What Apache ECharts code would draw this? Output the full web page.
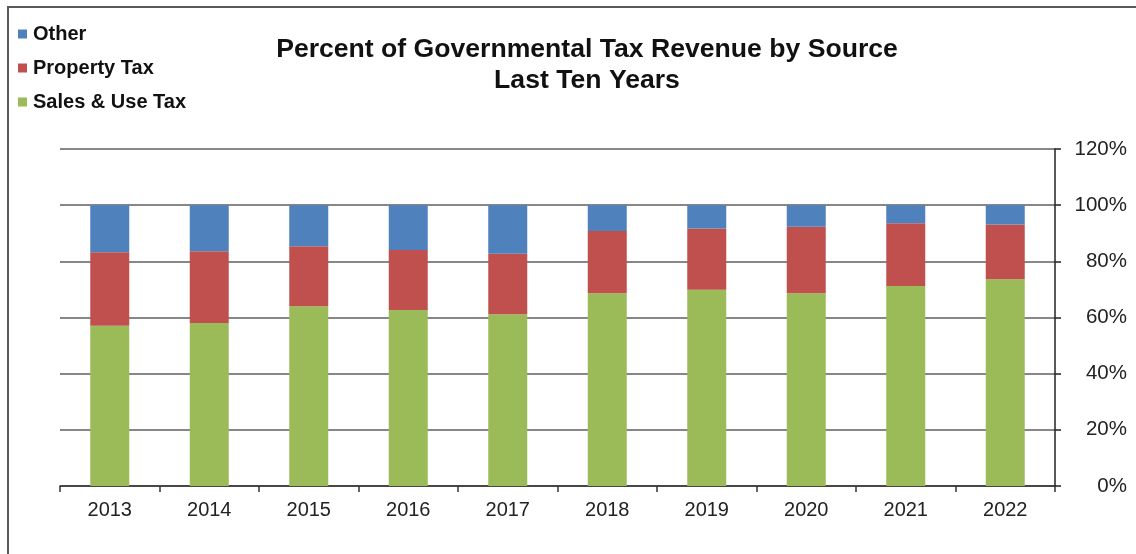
<!DOCTYPE html>
<html>
<head>
<meta charset="utf-8">
<title>Percent of Governmental Tax Revenue by Source</title>
<script src="https://cdn.jsdelivr.net/npm/echarts@6/dist/echarts.min.js"></script>
<style>
  html, body { margin: 0; padding: 0; background: #fff; }
  #chart { width: 1136px; height: 554px; }
</style>
</head>
<body>
<div id="chart"></div>
<script>
// Fiscal years shown on the category axis
const years = ['2013', '2014', '2015', '2016', '2017', '2018', '2019', '2020', '2021', '2022'];

// Share of governmental tax revenue (percent), stacked bottom to top
const salesUseTax = [57.1, 58.0, 64.0, 62.7, 61.2, 68.6, 69.9, 68.6, 71.2, 73.6];
const propertyTax = [26.1, 25.6, 21.4, 21.3, 21.5, 22.2, 21.8, 23.7, 22.4, 19.5];
const otherTax    = [16.8, 16.4, 14.6, 16.0, 17.3,  9.2,  8.3,  7.7,  6.4,  6.9];

// Percent axis range and step
const yMin = 0;
const yMax = 120;
const yStep = 20;

const FONT = 'Liberation Sans, Arial, sans-serif';

const chart = echarts.init(document.getElementById('chart'), null, { renderer: 'canvas' });

const barBase = {
  type: 'bar',
  stack: 'share',
  barWidth: 39,
  emphasis: { disabled: true }
};

chart.setOption({
  animation: false,
  backgroundColor: '#ffffff',
  textStyle: { fontFamily: FONT },
  title: {
    text: 'Percent of Governmental Tax Revenue by Source\nLast Ten Years',
    left: 587,
    top: 34,
    textAlign: 'center',
    padding: 0,
    textStyle: {
      fontFamily: FONT,
      fontSize: 26.6,
      fontWeight: 'bold',
      color: '#111',
      lineHeight: 31
    }
  },
  legend: {
    orient: 'vertical',
    left: 18,
    top: 24,
    padding: 0,
    itemWidth: 9,
    itemHeight: 9,
    itemGap: 14,
    icon: 'rect',
    data: ['Other', 'Property Tax', 'Sales & Use Tax'],
    textStyle: {
      fontFamily: FONT,
      fontSize: 20,
      fontWeight: 'bold',
      color: '#111',
      padding: [0, 0, 0, 1]
    }
  },
  grid: {
    left: 60,
    right: 81,
    top: 149,
    bottom: 68,
    containLabel: false
  },
  xAxis: {
    type: 'category',
    data: years,
    boundaryGap: true,
    axisLine: { show: true, lineStyle: { color: '#333', width: 1.5 } },
    axisTick: { show: true, length: 6, inside: false, lineStyle: { color: '#333', width: 1.5 } },
    axisLabel: {
      margin: 14,
      fontFamily: FONT,
      fontSize: 20,
      color: '#222'
    },
    splitLine: { show: false }
  },
  yAxis: {
    type: 'value',
    position: 'right',
    min: yMin,
    max: yMax,
    interval: yStep,
    axisLine: { show: true, lineStyle: { color: '#222', width: 1.5 } },
    axisTick: { show: true, length: 6, lineStyle: { color: '#222', width: 1.5 } },
    axisLabel: {
      formatter: '{value}%',
      align: 'right',
      margin: 72,
      fontFamily: FONT,
      fontSize: 20.5,
      color: '#222'
    },
    splitLine: { show: true, lineStyle: { color: '#878787', width: 2 } }
  },
  series: [
    Object.assign({}, barBase, {
      name: 'Sales & Use Tax',
      data: salesUseTax,
      itemStyle: { color: '#9BBB59' }
    }),
    Object.assign({}, barBase, {
      name: 'Property Tax',
      data: propertyTax,
      itemStyle: { color: '#C0504D' }
    }),
    Object.assign({}, barBase, {
      name: 'Other',
      data: otherTax,
      itemStyle: { color: '#4F81BD' }
    })
  ],
  graphic: [
    // Frame around the chart area (top and left edges)
    {
      type: 'polyline',
      silent: true,
      shape: { points: [[8, 560], [8, 7], [1140, 7]] },
      style: { stroke: '#5a5a5a', lineWidth: 2, fill: null }
    }
  ]
});
</script>
</body>
</html>
